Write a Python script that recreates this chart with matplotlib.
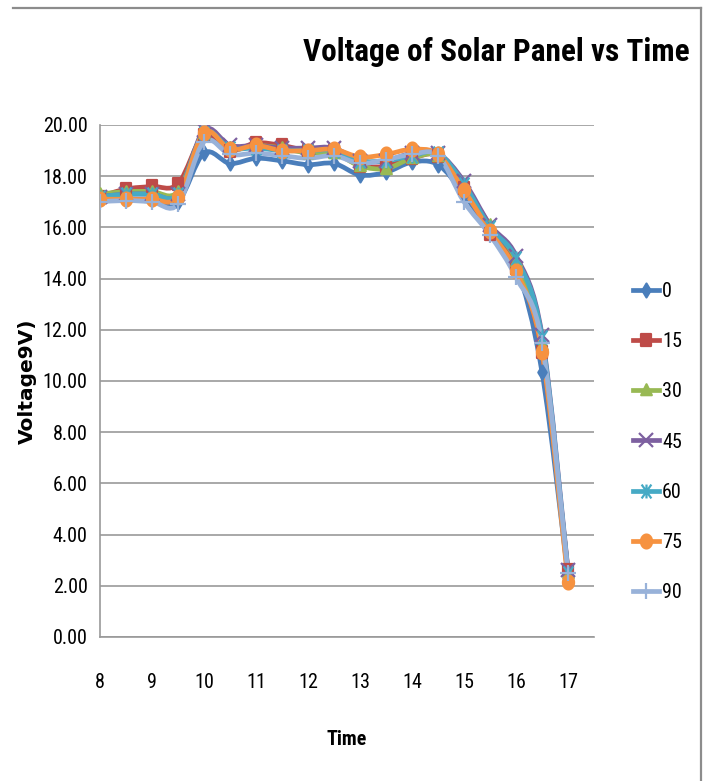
import numpy as np
import matplotlib
matplotlib.use("Agg")
import matplotlib.pyplot as plt
from matplotlib import font_manager
from matplotlib.path import Path
from matplotlib.patches import PathPatch
from matplotlib.lines import Line2D

# measurement times (hours) and panel voltage for each tilt angle
times = [8, 8.5, 9, 9.5, 10, 10.5, 11, 11.5, 12, 12.5, 13, 13.5, 14, 14.5, 15, 15.5, 16, 16.5, 17]
angles = ["0", "15", "30", "45", "60", "75", "90"]
v_0 = [17.1, 17.1, 17.1, 17.0, 18.9, 18.5, 18.7, 18.6, 18.45, 18.5, 18.05, 18.15, 18.55, 18.45, 17.3, 15.8, 14.5, 10.35, 2.4]
v_15 = [17.2, 17.5, 17.6, 17.7, 19.6, 19.0, 19.3, 19.2, 19.0, 19.0, 18.4, 18.4, 18.7, 18.8, 17.55, 15.75, 14.4, 11.15, 2.6]
v_30 = [17.3, 17.4, 17.4, 17.4, 19.7, 19.1, 19.2, 19.1, 18.9, 18.9, 18.4, 18.3, 18.7, 18.8, 17.6, 16.1, 14.7, 11.4, 2.5]
v_45 = [17.2, 17.3, 17.3, 17.3, 19.8, 19.2, 19.2, 19.1, 19.1, 19.1, 18.6, 18.6, 18.9, 18.9, 17.8, 16.1, 14.9, 11.8, 2.6]
v_60 = [17.2, 17.3, 17.3, 17.3, 19.7, 19.1, 19.1, 19.0, 19.0, 19.0, 18.6, 18.6, 18.8, 18.9, 17.7, 16.0, 14.8, 11.7, 2.5]
v_75 = [17.1, 17.1, 17.1, 17.2, 19.7, 19.05, 19.2, 19.0, 19.0, 19.05, 18.75, 18.85, 19.05, 18.85, 17.45, 15.85, 14.3, 11.15, 2.15]
v_90 = [17.0, 17.05, 17.0, 16.9, 19.35, 18.85, 18.9, 18.8, 18.7, 18.8, 18.5, 18.65, 18.85, 18.8, 17.0, 15.7, 14.05, 11.5, 2.5]
series = [v_0, v_15, v_30, v_45, v_60, v_75, v_90]

colors = ["#4A7EBB", "#BE4B48", "#98B954", "#7D60A0", "#46AAC5", "#F69240", "#98B2D9"]

# pick a narrow face for the Office-like labels
installed = {f.name for f in font_manager.fontManager.ttflist}
narrow = "DejaVu Sans"
for cand in ["Liberation Sans Narrow", "Roboto Condensed", "Open Sans Condensed", "Noto Sans Display"]:
    if cand in installed:
        narrow = cand
        break


def ellipse_marker(sx=0.8):
    t = np.linspace(0, 2 * np.pi, 40)
    return Path(np.column_stack([sx * np.cos(t), np.sin(t)]), closed=True)


diamond = Path([(0, 1), (0.6, 0), (0, -1), (-0.6, 0), (0, 1)], closed=True)
square = Path([(-0.8, -1), (0.8, -1), (0.8, 1), (-0.8, 1), (-0.8, -1)], closed=True)
triangle = Path([(0, 1), (0.85, -0.75), (-0.85, -0.75), (0, 1)], closed=True)
asterisk = Path([(-0.7, -1), (0.7, 1), (-0.7, 1), (0.7, -1), (0, -1), (0, 1)],
                [Path.MOVETO, Path.LINETO, Path.MOVETO, Path.LINETO, Path.MOVETO, Path.LINETO])
markers = [diamond, square, triangle, "x", asterisk, ellipse_marker(), "+"]
msizes = [10, 9, 9, 10, 10, 10, 11]


def smooth_path(x, y):
    # cubic Bezier through every point, Catmull-Rom style handles
    n = len(x)
    verts = [(x[0], y[0])]
    codes = [Path.MOVETO]
    for i in range(n - 1):
        a = max(i - 1, 0)
        b = min(i + 2, n - 1)
        c1 = (x[i] + (x[i + 1] - x[a]) / 6, y[i] + (y[i + 1] - y[a]) / 6)
        c2 = (x[i + 1] - (x[b] - x[i]) / 6, y[i + 1] - (y[b] - y[i]) / 6)
        verts += [c1, c2, (x[i + 1], y[i + 1])]
        codes += [Path.CURVE4] * 3
    return Path(verts, codes)


fig = plt.figure(figsize=(7.07, 7.81), dpi=100)
ax = fig.add_axes([100 / 707, 1 - 637 / 781, 494 / 707, 512 / 781])

handles = []
for vals, name, col, mk, ms in zip(series, angles, colors, markers, msizes):
    ax.add_patch(PathPatch(smooth_path(times, vals), fill=False, edgecolor=col,
                           lw=3.4, capstyle="round", joinstyle="round", zorder=3))
    ax.plot(times, vals, linestyle="none", marker=mk, ms=ms, color=col,
            mec=col, mew=1.6, zorder=4)
    handles.append(Line2D([], [], color=col, lw=3.4, marker=mk, ms=ms, mec=col, mew=1.6, label=name))

ax.set_xlim(8, 17.5)
ax.set_ylim(0, 20)
ax.set_xticks(range(8, 18))
ax.set_yticks(np.arange(0, 21, 2))
ax.set_yticklabels([f"{v:.2f}" for v in np.arange(0, 21, 2)])
ax.yaxis.grid(True, color="#999999", lw=1.2)
ax.set_axisbelow(True)
for side in ["top", "right"]:
    ax.spines[side].set_visible(False)
for side in ["left", "bottom"]:
    ax.spines[side].set_color("#999999")
    ax.spines[side].set_linewidth(1.2)
ax.tick_params(length=0, labelsize=14.5)
ax.tick_params(axis="y", pad=9)
ax.tick_params(axis="x", pad=26)
for lab in ax.get_xticklabels() + ax.get_yticklabels():
    lab.set_fontfamily(narrow)

ax.set_xlabel("Time", fontsize=14.5, fontweight="bold", family=narrow, labelpad=27)
ax.set_ylabel("Voltage9V)", fontsize=14.5, fontweight="bold", family="DejaVu Sans", labelpad=4)

fig.text(496 / 707, 1 - 52 / 781, "Voltage of Solar Panel vs Time", ha="center", va="center",
         fontsize=22.5, fontweight="bold", family=narrow)

leg = fig.legend(handles=handles, loc="center left", bbox_to_anchor=(633 / 707, 1 - 442 / 781),
                 frameon=False, prop={"family": narrow, "size": 14.5}, handlelength=1.3,
                 handletextpad=0.15, labelspacing=1.55, borderpad=0, borderaxespad=0)

# outer chart border (top and right edges)
fig.add_artist(Line2D([13 / 707, 701 / 707], [1 - 8 / 781, 1 - 8 / 781], color="#8C8C8C", lw=1.6))
fig.add_artist(Line2D([701 / 707, 701 / 707], [1 - 8 / 781, 0], color="#8C8C8C", lw=1.6))

fig.savefig("out.png", dpi=100)
